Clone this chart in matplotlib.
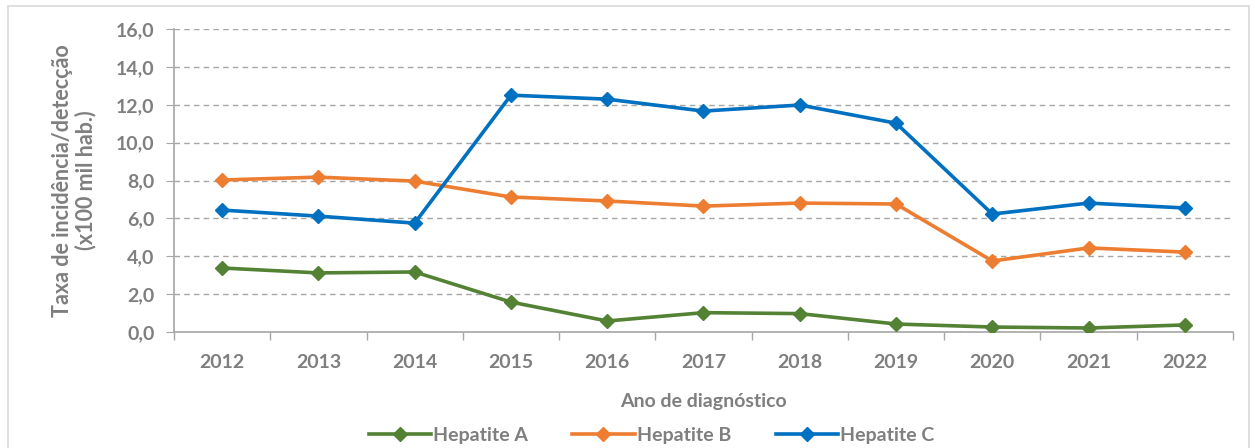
import matplotlib
matplotlib.use("Agg")
import matplotlib.pyplot as plt
from matplotlib.patches import Rectangle
import numpy as np

# Data
anos = ["2012", "2013", "2014", "2015", "2016", "2017", "2018", "2019", "2020", "2021", "2022"]
hepatite_a = [3.38, 3.12, 3.17, 1.58, 0.58, 1.02, 0.97, 0.42, 0.26, 0.21, 0.37]
hepatite_b = [8.03, 8.18, 7.97, 7.13, 6.92, 6.65, 6.81, 6.76, 3.75, 4.44, 4.22]
hepatite_c = [6.44, 6.12, 5.75, 12.51, 12.30, 11.67, 11.99, 11.03, 6.23, 6.81, 6.55]
yticks = [0, 2, 4, 6, 8, 10, 12, 14, 16]

plt.rcParams["font.family"] = ["Lato", "DejaVu Sans"]
plt.rcParams["font.weight"] = "bold"
gray = "#7f7f7f"
fs = 14

fig = plt.figure(figsize=(12.55, 4.48), dpi=100)
ax = fig.add_axes([0.1386, 0.259, 0.8439, 0.676])

x = np.arange(len(anos))
series = [
    (hepatite_a, "#548235", "Hepatite A"),
    (hepatite_b, "#ED7D31", "Hepatite B"),
    (hepatite_c, "#0070C0", "Hepatite C"),
]
for vals, color, label in series:
    ax.plot(x, vals, color=color, lw=2.6, marker="D", markersize=7,
            label=label, solid_joinstyle="round", zorder=3)

ax.set_xlim(-0.5, len(anos) - 0.5)
ax.set_ylim(0, 16)
ax.set_yticks(yticks)
ax.set_yticklabels(["{:.1f}".format(v).replace(".", ",") for v in yticks])
ax.set_xticks(x)
ax.set_xticklabels(anos)
ax.set_xticks(np.arange(-0.5, len(anos), 1), minor=True)
ax.tick_params(axis="x", which="major", length=0, pad=16, labelsize=fs, labelcolor=gray)
ax.tick_params(axis="x", which="minor", length=6, color="#a6a6a6", width=1)
ax.tick_params(axis="y", length=6, color="#a6a6a6", labelsize=fs, labelcolor=gray, pad=8)

for v in yticks[1:]:
    ax.axhline(v, color="#a6a6a6", lw=1, ls=(0, (4, 3)), zorder=1)

for s in ["top", "right"]:
    ax.spines[s].set_visible(False)
for s in ["left", "bottom"]:
    ax.spines[s].set_color("#a6a6a6")
    ax.spines[s].set_linewidth(1.2)

ax.set_ylabel("Taxa de incidência/detecção\n(x100 mil hab.)", fontsize=15.5,
              color=gray, fontweight="bold", labelpad=14, linespacing=1.1)
ax.set_xlabel("Ano de diagnóstico", fontsize=fs, color=gray,
              fontweight="bold", labelpad=16)

leg = fig.legend(loc="center", bbox_to_anchor=(0.519, 0.028), ncol=3,
                 frameon=False, fontsize=fs, handlelength=3.2,
                 columnspacing=2.3, handletextpad=0.1)
for t in leg.get_texts():
    t.set_color(gray)

fig.patches.append(Rectangle((0.006, -0.05), 0.989, 1.037, transform=fig.transFigure,
                             fill=False, edgecolor="#d9d9d9", lw=1.2))

fig.savefig("out.png", dpi=100)
